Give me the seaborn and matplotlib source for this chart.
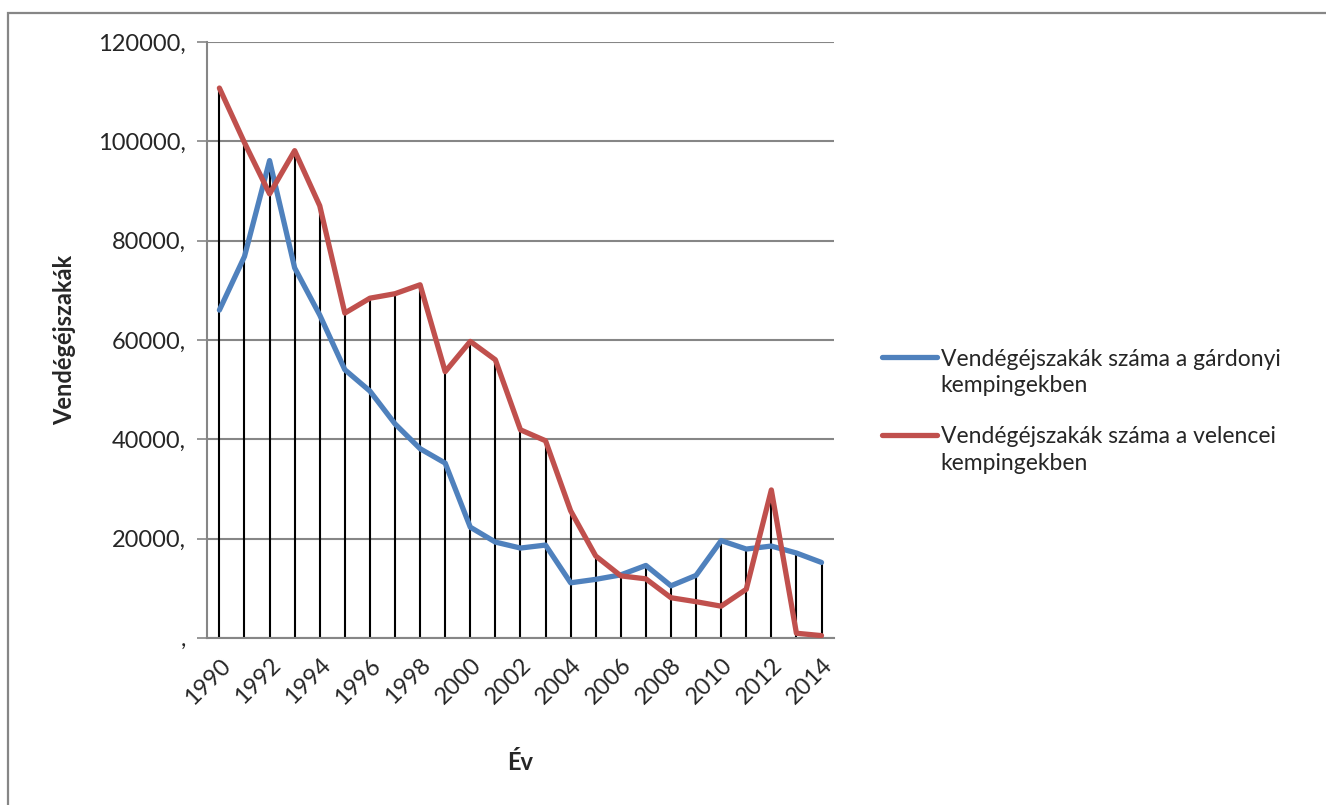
import numpy as np
import pandas as pd
import matplotlib
matplotlib.use("Agg")
import matplotlib.pyplot as plt
from matplotlib.patches import Rectangle
from matplotlib.legend_handler import HandlerLine2D
import seaborn as sb

evek = list(range(1990, 2015))
gardonyi = [66000, 76800, 96100, 74500, 65000, 54000, 49700, 43100, 38100, 35200,
            22300, 19300, 18100, 18700, 11100, 11800, 12700, 14600, 10500, 12600,
            19600, 17900, 18500, 17100, 15200]
velencei = [110700, 99700, 89400, 98100, 87000, 65400, 68400, 69300, 71100, 53600,
            59700, 56000, 41900, 39700, 25600, 16500, 12500, 11900, 8100, 7300,
            6400, 9800, 29800, 950, 470]
nev_g = "Vendégéjszakák száma a gárdonyi\nkempingekben"
nev_v = "Vendégéjszakák száma a velencei\nkempingekben"
y_tickek = [0, 20000, 40000, 60000, 80000, 100000, 120000]

df = pd.DataFrame({"ev": evek * 2,
                   "ertek": gardonyi + velencei,
                   "sor": [nev_g] * len(evek) + [nev_v] * len(evek)})

LEG_FS = 16.5
LEG_LS = 1.35


class FelsoSor(HandlerLine2D):
    # legend line next to the first text row, like Excel does
    def create_artists(self, legend, orig_handle, xdescent, ydescent, width, height,
                       fontsize, trans):
        arts = super().create_artists(legend, orig_handle, xdescent, ydescent, width,
                                      height, fontsize, trans)
        for a in arts:
            a.set_ydata(np.asarray(a.get_ydata()) + 0.5 * LEG_LS * fontsize)
        return arts


sb.set_style("white")
plt.rcParams['font.family'] = ['Lato', 'DejaVu Sans']

fig = plt.figure(figsize=(13.26, 8.05), dpi=100)
fig.patches.append(Rectangle((8 / 1326, -0.1), 1.1, 1.1 - 13 / 805, fill=False,
                             edgecolor='#868686', lw=1.6, transform=fig.transFigure))
ax = fig.add_axes([0.156, 0.2075, 0.473, 0.7405])

# drop lines down to the axis
felso = np.maximum(gardonyi, velencei)
ax.vlines(evek, 0, felso, color='black', lw=1.5, zorder=1)

sb.lineplot(data=df, x="ev", y="ertek", hue="sor",
            palette=['#4F81BD', '#C0504D'], lw=3.8, ax=ax, zorder=3)

ax.set_xlim(1989.5, 2014.5)
ax.set_ylim(0, 120000)
ax.set_yticks(y_tickek)
ax.set_yticklabels([(str(v) if v else "") + "," for v in y_tickek], fontsize=17)
ax.set_xticks(evek[::2])
ax.set_xticklabels([str(e) for e in evek[::2]], rotation=45, ha='right',
                   rotation_mode='anchor', fontsize=17)
ax.tick_params(axis='x', length=0, pad=12)
ax.tick_params(axis='y', length=7, width=1.2, color='#868686', left=True, pad=8)
ax.grid(axis='y', color='#868686', lw=1.5)
for s in ['top', 'right']:
    ax.spines[s].set_visible(False)
for s in ['left', 'bottom']:
    ax.spines[s].set_color('#868686')
    ax.spines[s].set_linewidth(1.5)

ax.set_xlabel("Év", fontsize=17, fontweight='bold', labelpad=31)
ax.set_ylabel("Vendégéjszakák", fontsize=17, fontweight='bold', labelpad=16)

h, l = ax.get_legend_handles_labels()
leg = ax.legend(h, l, loc='center left', bbox_to_anchor=(0.665, 0.489),
                bbox_transform=fig.transFigure, frameon=False, fontsize=LEG_FS,
                handlelength=2.4, handletextpad=0.17, labelspacing=1.3,
                borderpad=0, borderaxespad=0,
                handler_map={type(h[0]): FelsoSor()})
for t in leg.get_texts():
    t.set_linespacing(LEG_LS)

fig.savefig("out.png", dpi=100)
